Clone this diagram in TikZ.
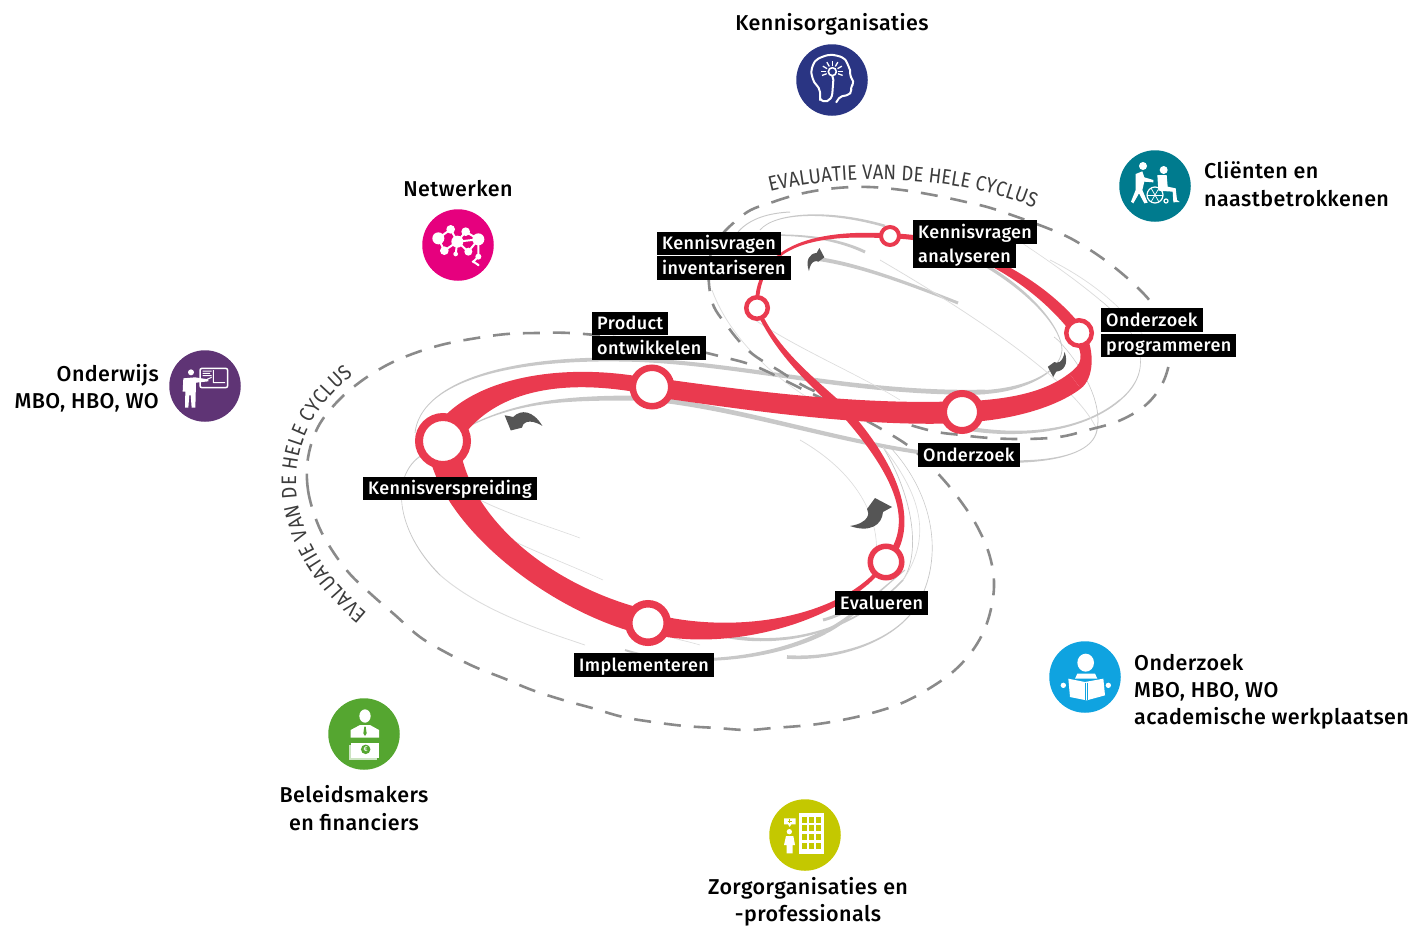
\documentclass[tikz,border=0pt]{standalone}
\usepackage{fontspec}
\setmainfont[LetterSpace=2]{Fira Sans Medium}
\usetikzlibrary{calc,backgrounds,decorations.text}

\definecolor{ribbonred}{HTML}{EA3A4F}
\definecolor{tracegrey}{HTML}{C8C8C8}
\definecolor{fadegrey}{HTML}{DDDDDD}
\definecolor{dashgrey}{HTML}{8A8A8A}
\definecolor{turngrey}{HTML}{555555}
\definecolor{evalgrey}{HTML}{3C3C3C}
\definecolor{navy}{HTML}{2A3583}
\definecolor{tealblue}{HTML}{007B8E}
\definecolor{magenta}{HTML}{E6007E}
\definecolor{purple}{HTML}{5F3475}
\definecolor{leaf}{HTML}{55A630}
\definecolor{olive}{HTML}{C4C800}
\definecolor{skyblue}{HTML}{0FA3E0}

% tapered band: colour, start, control, control, end, half widths
\newcommand{\trace}[7][tracegrey]{%
  \fill[#1] ($(#2)!#6pt!90:(#3)$) .. controls ($(#3)!#6pt!-90:(#2)$) and ($(#4)!#7pt!90:(#5)$) .. ($(#5)!#7pt!-90:(#4)$)
    -- ($(#5)!#7pt!90:(#4)$) .. controls ($(#4)!#7pt!-90:(#5)$) and ($(#3)!#6pt!90:(#2)$) .. ($(#2)!#6pt!-90:(#3)$) -- cycle;}
\newfontfamily\evalfont[FakeStretch=.88]{Fira Sans}

\tikzset{
  hub/.style 2 args={circle,draw=ribbonred,fill=white,inner sep=0pt,minimum size=#1,line width=#2},
  tag/.style={fill=black,text=white,anchor=west,inner xsep=5pt,inner ysep=0pt,text height=14.5pt,text depth=2.5pt,minimum height=23.5pt,font=\fontsize{18}{20}\selectfont},
  party/.style={font=\fontsize{21.5}{27.2}\selectfont,inner xsep=0pt},
  disc/.style={circle,inner sep=0pt,minimum size=71.5pt},
  cycle line/.style={draw=dashgrey,line width=2.6pt,dash pattern=on 17pt off 13pt},
  turn/.pic={\fill[turngrey] (-22,11) .. controls (-3,8) and (-2,-2) .. (-5,-6) -- (3,-17) -- (20,-8) -- (11,-3)
      .. controls (10,10) and (-2,18) .. (-22,11) -- cycle;}
}

\begin{document}
\begin{tikzpicture}[x=1pt,y=-1pt]
  \useasboundingbox (0,0) rectangle (1415,926);

  % stops on the loop
  \node[hub={48pt}{8pt}]   (kv) at (443,441) {};
  \node[hub={38.5pt}{6.5pt}] (po) at (652,387) {};
  \node[hub={38.5pt}{7.5pt}] (im) at (648,623) {};
  \node[hub={37pt}{7pt}]   (on) at (962,412) {};
  \node[hub={25.5pt}{4.5pt}] (op) at (1079,333) {};
  \node[hub={18pt}{4pt}]   (ka) at (890,236) {};
  \node[hub={21.5pt}{4.5pt}] (ki) at (757,308) {};
  \node[hub={31.5pt}{5.5pt}] (ev) at (886,562) {};
  \coordinate (bend) at (1075,381);
  \coordinate (cross) at (845,412);

  \begin{scope}[on background layer]
    % thin and thick traces
    \trace{415,433}{420,385}{500,355}{640,360}{.4}{2}
    \trace{640,360}{750,365}{860,395}{985,392}{2}{2.4}
    \trace{985,392}{1020,390}{1060,375}{1062,350}{2}{.4}
    \trace{1062,350}{1062,330}{1035,295}{985,265}{.4}{1.6}
    \trace{985,265}{960,250}{940,245}{920,240}{1.6}{1}
    \trace{467,427}{520,400}{570,398}{640,398}{.6}{2.5}
    \trace{640,398}{730,405}{830,440}{925,453}{2.5}{2}
    \trace{925,453}{985,465}{1090,470}{1097,430}{2}{.5}
    \trace{1097,430}{1105,390}{1060,340}{1054,337}{.4}{.3}
    \trace{950,425}{1000,437}{1075,438}{1120,400}{2.2}{.8}
    \trace{1120,400}{1150,375}{1150,340}{1100,300}{.6}{.3}
    \trace[fadegrey]{1100,300}{1070,275}{1040,255}{1010,235}{.4}{.3}
    \trace{738,232}{750,218}{770,213}{790,212}{.5}{.5}
    \trace{760,230}{775,212}{830,210}{885,226}{.4}{1.3}
    \trace{740,238}{780,232}{830,235}{865,252}{.5}{1.5}
    \trace{810,258}{850,262}{900,280}{958,303}{2}{1.5}
    \trace{625,650}{670,665}{760,665}{825,632}{1}{2.2}
    \trace{825,632}{850,620}{880,590}{905,570}{2}{.5}
    \trace{720,635}{780,648}{850,635}{903,580}{1.8}{.8}
    \trace{903,580}{920,555}{915,500}{883,447}{.4}{.4}
    \trace{787,657}{840,660}{900,640}{920,600}{1.8}{.5}
    \trace{920,600}{945,550}{930,490}{890,447}{.4}{.3}
    \trace{823,620}{835,617}{850,610}{865,600}{1.5}{1.5}
    \trace[fadegrey]{800,440}{870,480}{890,540}{868,585}{.4}{.4}
    \trace[fadegrey]{883,447}{925,500}{930,540}{903,580}{.4}{.4}
    \trace{422,455}{390,475}{395,530}{440,575}{.5}{.5}
    \trace[fadegrey]{440,575}{480,610}{540,630}{585,645}{.5}{.4}
    \trace[fadegrey]{480,500}{510,515}{545,525}{580,538}{.4}{.3}
    \trace[fadegrey]{497,533}{530,550}{570,565}{603,580}{.4}{.3}
    \trace[fadegrey]{670,637}{680,640}{690,642}{700,645}{.4}{.3}
    \trace[fadegrey]{712,290}{730,340}{780,385}{830,410}{.4}{.3}
    \trace[fadegrey]{755,320}{800,350}{860,375}{900,400}{.4}{.3}
    \trace[fadegrey]{880,260}{1000,330}{1080,390}{1097,430}{.4}{.4}
    \trace[fadegrey]{1050,260}{1090,280}{1120,305}{1143,335}{.4}{.3}

    % the two dashed cycles
    \draw[cycle line] plot[smooth cycle,tension=.6] coordinates {
      (308,458) (308,490) (317,522) (330,547) (349,573) (372,595) (395,615) (420,637)
      (447,653) (475,667) (503,678) (532,690) (563,700) (592,708) (623,717) (653,722)
      (685,726) (717,728) (747,730) (773,728) (810,725) (842,720) (872,713) (902,703)
      (930,688) (955,670) (975,647) (988,620) (994,587) (990,557) (978,528) (962,503)
      (942,478) (917,453) (895,437) (850,412) (800,388) (757,367) (723,357) (670,345)
      (613,337) (570,333) (537,333) (507,334) (477,338) (445,344) (415,353) (387,365)
      (360,382) (337,402) (318,427)};
    \draw[cycle line] plot[smooth cycle,tension=.6] coordinates {
      (743,215) (773,202) (804,193) (837,188) (869,187) (902,190) (933,195) (966,202)
      (997,210) (1057,232) (1087,248) (1114,267) (1138,288) (1154,307) (1170,340) (1166,375)
      (1149,402) (1121,420) (1088,430) (1059,437) (1024,439) (990,438) (961,435) (928,430)
      (870,412) (812,390) (778,370) (750,352) (728,327) (711,298) (712,250)};

    % the loop
    \trace[ribbonred]{kv}{475,385}{560,368}{po}{14}{8}
    \trace[ribbonred]{po}{730,398}{860,417}{on}{9.5}{11}
    \trace[ribbonred]{on}{1010,410}{1050,400}{bend}{10.5}{9.5}
    \trace[ribbonred]{bend}{1088,371}{1090,355}{op}{9.5}{6}
    \trace[ribbonred]{op}{1040,280}{960,236}{ka}{6}{2.5}
    \trace[ribbonred]{ka}{825,232}{755,240}{ki}{2.5}{2}
    \trace[ribbonred]{ki}{775,350}{810,380}{cross}{2}{4.5}
    \trace[ribbonred]{cross}{905,480}{915,530}{ev}{4.5}{3.5}
    \trace[ribbonred]{ev}{845,620}{730,645}{im}{2}{10}
    \trace[ribbonred]{im}{550,600}{450,520}{kv}{12.5}{16}
  \end{scope}

  % turning arrows
  \pic at (872,515) {turn};
  \pic[rotate=140,scale=.85] at (522,421) {turn};
  \pic[rotate=-90,xscale=-1,scale=.55] at (815,259) {turn};
  \pic[rotate=90,xscale=-1,scale=.6] at (1058,365) {turn};

  % black labels
  \node[tag] (lki1) at (657,243.5) {Kennisvragen};
  \node[tag] (lki2) at (657,268) {inventariseren};
  \node[tag] (lka1) at (913,232) {Kennisvragen};
  \node[tag] (lka2) at (913,256) {analyseren};
  \node[tag] (lop1) at (1101,320) {Onderzoek};
  \node[tag] (lop2) at (1101,345.5) {programmeren};
  \node[tag] (lpo1) at (592,323.5) {Product};
  \node[tag] (lpo2) at (592,348) {ontwikkelen};
  \node[tag] (lon)  at (918,455) {Onderzoek};
  \node[tag] (lkv)  at (363,488.5) {Kennisverspreiding};
  \node[tag] (lev)  at (835,603) {Evalueren};
  \node[tag] (lim)  at (574,665) {Implementeren};

  % round evaluation texts
  \path[postaction={decorate},decoration={text along path,text align=fit to path,
      text={|\fontsize{21}{21}\evalfont\color{evalgrey}|EVALUATIE VAN DE HELE CYCLUS}}]
    (770,192) .. controls (850,172) and (960,176) .. (1034,208);
  \path[postaction={decorate},decoration={text along path,text align=fit to path,
      text={|\fontsize{21}{21}\evalfont\color{evalgrey}|EVALUATIE VAN DE HELE CYCLUS}}]
    (368,613) .. controls (280,540) and (270,440) .. (353,375);

  % parties round the cycle
  \node[disc,fill=navy]     (kennis)  at (832,80)   {};
  \node[disc,fill=tealblue] (client)  at (1155,186) {};
  \node[disc,fill=magenta]  (netwerk) at (458,245)  {};
  \node[disc,fill=purple]   (onderw)  at (205,386)  {};
  \node[disc,fill=leaf]     (beleid)  at (364,734)  {};
  \node[disc,fill=olive]    (zorg)    at (805,835)  {};
  \node[disc,fill=skyblue]  (onderz)  at (1085,677) {};

  \node[party] (tkennis) at (832,24) {Kennisorganisaties};
  \node[party] (tnetwerk) at (458,189) {Netwerken};
  \node[party,anchor=west,align=left] (tclient) at (1204,184) {Cliënten en\\naastbetrokkenen};
  \node[party,anchor=east,align=right] (tonderw) at (159,388) {Onderwijs\\MBO, HBO, WO};
  \node[party,align=center] (tbeleid) at (354,808) {Beleidsmakers\\en financiers};
  \node[party,align=center] (tzorg) at (808,902) {Zorgorganisaties en\\-professionals};
  \node[party,anchor=west,align=left] (tonderz) at (1134,692) {Onderzoek\\MBO, HBO, WO\\academische werkplaatsen};

  % head with bulb
  \begin{scope}[shift={(780,30)},scale=1/3]
    \draw[white,line width=2pt,rounded corners=2pt] plot[smooth] coordinates {(120,212) (118,180) (100,150) (95,120) (110,90) (150,75) (190,85) (208,115) (210,135)}
      -- (222,160) -- (212,170) -- (215,185) -- (205,195) -- (180,200) -- (168,218);
    \draw[white,line width=2pt] (120,205) .. controls (130,222) and (155,215) .. (157,190) -- (160,150) -- (157,138);
    \draw[white,line width=1.6pt] (157,125) circle (12);
    \foreach \a in {0,30,60,...,180,340,200} {\draw[white,line width=1.3pt] (157,125) ++(\a:-18) -- ++(\a:-15);}
  \end{scope}

  % carer and wheelchair
  \begin{scope}[shift={(1105,140)},scale=1/3]
    \fill[white] (114,78) circle (12) (176,90) circle (12);
    \fill[white] (92,102) -- (112,94) -- (118,112) -- (145,120) -- (145,127) -- (118,125) -- (112,150) -- (128,188) -- (118,190) -- (102,160) -- (85,190) -- (78,185) -- (92,150) -- cycle;
    \fill[white] (157,105) -- (185,105) -- (188,140) -- (212,145) -- (216,180) -- (224,186) -- (205,187) -- (203,155) -- (160,152) -- cycle;
    \draw[white,line width=1.2pt] (150,165) circle (24) (183,183) circle (6);
    \foreach \a in {0,60,...,300} {\draw[white,line width=.7pt] (150,165) -- ++(\a:24);}
  \end{scope}

  % molecule
  \begin{scope}[shift={(410,200)},scale=1/3]
    \draw[white,line width=2pt] (85,115) -- (122,88) -- (142,125) -- (167,95) -- (205,118) -- (175,155) -- (142,125) -- (103,152) -- (85,115)
      (142,125) -- (137,162) (142,125) -- (205,118) (205,118) -- (205,170) -- (190,185) -- (205,195);
    \foreach \x/\y/\r in {85/115/18,122/88/13,142/125/18,167/95/13,205/118/18,103/152/13,175/155/12,137/162/7,205/170/9,190/185/5,205/195/4}
      {\fill[white] (\x,\y) circle (\r);}
  \end{scope}

  % teacher at a board
  \begin{scope}[shift={(160,340)},scale=1/3]
    \fill[white] (93,97) circle (9);
    \fill[white] (70,115) -- (105,112) -- (145,118) -- (145,124) -- (108,128) -- (106,203) -- (95,203) -- (92,165) -- (88,165) -- (85,203) -- (75,203) -- (76,155) -- (68,155) -- cycle;
    \draw[white,line width=1.5pt,rounded corners=2pt] (120,85) rectangle (203,143);
    \draw[white,line width=1pt] (128,93) -- (155,93) (128,100) -- (150,100) (128,107) -- (155,107) (160,90) -- (160,128) -- (195,128) (125,125) -- (155,112);
  \end{scope}

  % official and banknote
  \begin{scope}[shift={(320,690)},scale=1/3]
    \fill[white] (135,78) ellipse (17 and 20);
    \fill[white] (92,143) -- (92,120) -- (120,105) -- (150,105) -- (177,120) -- (177,143) -- cycle;
    \fill[leaf] (133,110) -- (137,110) -- (140,130) -- (135,138) -- (130,130) -- cycle;
    \fill[white!70!leaf] (88,165) rectangle (170,210);
    \fill[white] (92,158) rectangle (178,205);
    \node[circle,fill=leaf,text=white,inner sep=0pt,minimum size=9.5pt,font=\fontsize{7}{7}\selectfont] (note) at (137,178) {€};
  \end{scope}

  % carer and care building
  \begin{scope}[shift={(760,790)},scale=1/3]
    \fill[white] (118,70) rectangle (192,192);
    \foreach \r in {0,1,2,3} \foreach \c in {0,1,2}
      {\fill[olive] (125+\c*21.5,80+\r*26) rectangle ++(15,18);}
    \fill[white] (88,125) circle (8);
    \fill[white] (78,138) -- (100,138) -- (105,165) -- (98,165) -- (98,190) -- (80,190) -- (80,165) -- (72,165) -- cycle;
    \fill[white] (72,85) rectangle (107,103) (84,103) -- (94,103) -- (89,111) -- cycle;
    \draw[olive,line width=1.2pt] (83,94) -- (96,94) (89.5,88) -- (89.5,100);
  \end{scope}

  % reader with book
  \begin{scope}[shift={(1040,632)},scale=1/3]
    \fill[white] (137,92) ellipse (25 and 27);
    \fill[white] (105,140) -- (112,125) -- (165,125) -- (172,140) -- cycle;
    \fill[white] (70,160) circle (8) (205,160) circle (8);
    \fill[white] (85,140) -- (135,150) -- (190,140) -- (195,190) -- (140,205) -- (90,195) -- cycle;
    \draw[skyblue,line width=1pt] (135,152) -- (135,203) (142,152) -- (142,203);
  \end{scope}
\end{tikzpicture}
\end{document}
